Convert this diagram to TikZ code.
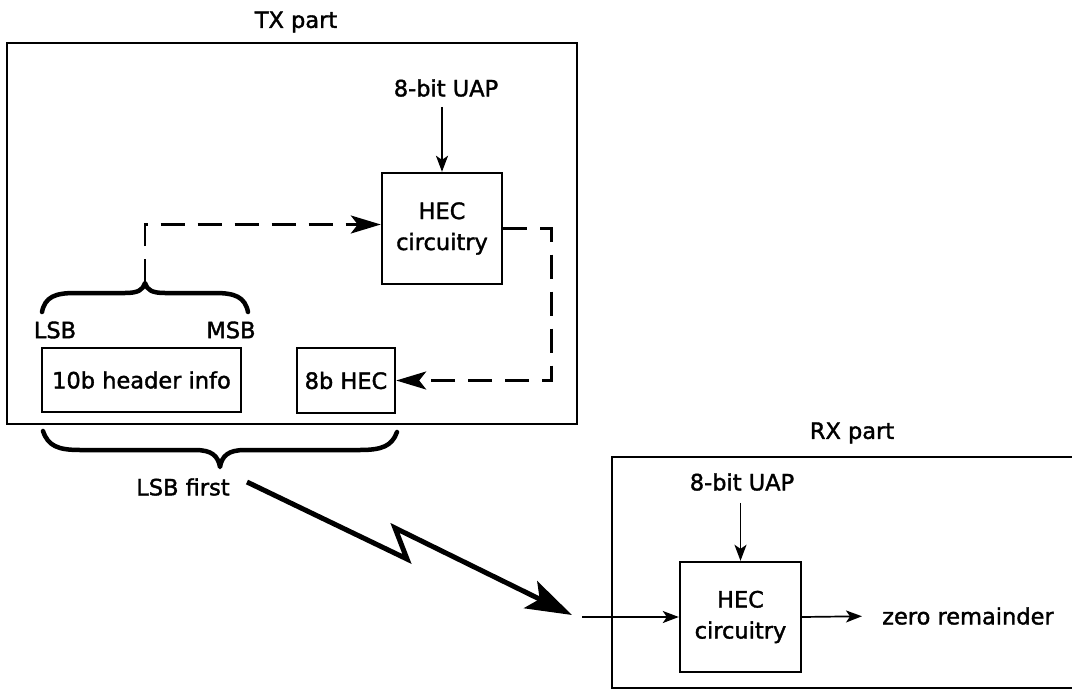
\documentclass[tikz,border=0pt]{standalone}
\usepackage{fontspec}
\setmainfont{DejaVu Sans}[BoldFont={DejaVu Sans}, BoldFeatures={FakeBold=1.6}]
\usetikzlibrary{arrows.meta}
\begin{document}
\begin{tikzpicture}[x=1pt,y=-1pt,
  font=\fontsize{22.5}{31}\selectfont\bfseries,
  frame/.style={draw, line width=2.6pt, inner sep=0pt},
  block/.style={draw, line width=2.4pt, inner sep=0pt, align=center},
  lbl/.style={inner sep=0pt, align=center},
  dash line/.style={line width=2.8pt, dash pattern=on 24pt off 13pt},
  thin arrow/.style={line width=1.7pt, -{Stealth[length=16pt,width=12pt,inset=4pt]}},
  big head/.style={-{Stealth[length=30pt,width=18pt,inset=7pt]}},
  bracestroke/.style={line width=4.5pt, line cap=round, line join=round},
  bolt/.style={line width=5pt, -{Stealth[length=46pt,width=30pt,inset=10pt]}},
]
\useasboundingbox (0,0) rectangle (1072,691);
\fill[white] (0,0) rectangle (1072,691);
\clip (0,0) rectangle (1072,691);

% ---------- transmitter ----------
\node[frame, minimum width=570pt, minimum height=381pt] (txframe) at (292,233.5) {};
\node[lbl] (txlabel) at (296,22) {TX part};
\node[lbl] (uap1) at (446,88) {8-bit UAP};
\node[block, minimum width=120pt, minimum height=111pt] (txhec) at (442,228.5) {HEC\\circuitry};
\node[block, minimum width=199pt, minimum height=64pt] (hdr) at (141.5,380) {10b header info};
\node[block, minimum width=98pt, minimum height=65pt] (hec8) at (346,380.5) {8b HEC};
\node[lbl] (lsb) at (55,330) {LSB};
\node[lbl] (msb) at (231,330) {MSB};

% brace over the header bits
\coordinate (bracetip) at (145,283);
\draw[bracestroke] (42,312) .. controls (45,297) and (55,293) .. (75,293) -- (125,293)
  .. controls (138,293) and (143,290) .. (bracetip)
  .. controls (147,290) and (152,293) .. (165,293) -- (215,293)
  .. controls (235,293) and (245,297) .. (248,312);

% UAP into the HEC generator
\draw[thin arrow, shorten <=10pt] (uap1.south -| txhec.north) -- (txhec.north);

% header bits to HEC circuitry, HEC result back to the packet
\draw[dash line, big head] (bracetip) |- ([yshift=4pt]txhec.west);
\draw[dash line, big head] (txhec.east) -- ++(48,0) |- (hec8.east);

% brace under the whole header
\coordinate (lowtip) at (220,467);
\draw[bracestroke] (43,431) .. controls (48,446) and (58,450) .. (80,450) -- (195,450)
  .. controls (212,450) and (218,456) .. (lowtip)
  .. controls (222,456) and (228,450) .. (245,450) -- (360,450)
  .. controls (382,450) and (392,446) .. (397,432);
\node[lbl] (lsbfirst) at (183,487) {LSB first};

% radio link
\coordinate (zigstart) at (247,482);
\coordinate (zigend) at (572,615);
\draw[bolt] (zigstart) -- (407,559) -- (395,528) -- (zigend);

% ---------- receiver ----------
\node[frame, minimum width=478pt, minimum height=231pt] (rxframe) at (851,572.5) {};
\node[lbl] (rxlabel) at (852,433) {RX part};
\node[lbl] (uap2) at (742,482) {8-bit UAP};
\node[block, minimum width=121pt, minimum height=110pt] (rxhec) at (740.5,617) {HEC\\circuitry};
\node[lbl, anchor=west] (zr) at (882,616) {zero remainder};
\coordinate (rxin) at (582,617);

\draw[thin arrow, shorten <=12pt] (uap2.south -| rxhec.north) -- (rxhec.north);
\draw[thin arrow] (rxin) -- (rxhec.west);
\draw[thin arrow, shorten >=20pt] (rxhec.east) -- (zr.west);
\end{tikzpicture}
\end{document}
